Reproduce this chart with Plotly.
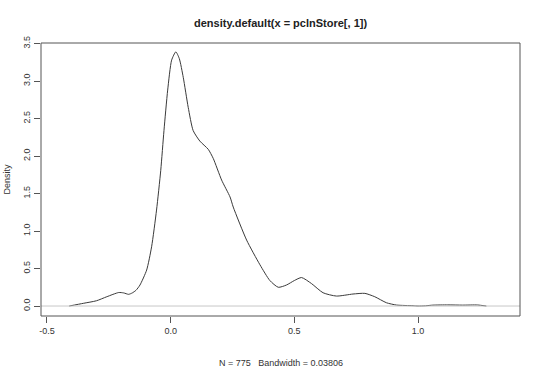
import plotly.graph_objects as go

# Density estimate
x_vals = [-0.41, -0.353, -0.30, -0.258, -0.21, -0.19, -0.17, -0.155, -0.14, -0.124,
          -0.097, -0.077, -0.057, -0.040, -0.027, -0.012, 0.004, 0.021, 0.035, 0.051,
          0.071, 0.091, 0.118, 0.152, 0.172, 0.206, 0.240, 0.253, 0.307, 0.361,
          0.401, 0.435, 0.468, 0.50, 0.529, 0.569, 0.616, 0.670, 0.737, 0.785,
          0.825, 0.872, 0.913, 0.98, 1.0, 1.03, 1.06, 1.12, 1.18, 1.24, 1.276]
density = [0.0, 0.036, 0.07, 0.124, 0.18, 0.175, 0.156, 0.175, 0.21, 0.28,
           0.48, 0.79, 1.28, 1.81, 2.34, 2.88, 3.28, 3.39, 3.30, 3.05,
           2.65, 2.34, 2.20, 2.09, 1.97, 1.68, 1.455, 1.32, 0.88, 0.55,
           0.34, 0.25, 0.28, 0.34, 0.38, 0.30, 0.177, 0.133, 0.16, 0.169,
           0.124, 0.044, 0.013, 0.004, 0.0, 0.003, 0.012, 0.015, 0.012, 0.014, 0.0]

x_ticks = [-0.5, 0.0, 0.5, 1.0]
x_tick_labels = ["-0.5", "0.0", "0.5", "1.0"]
y_ticks = [0.0, 0.5, 1.0, 1.5, 2.0, 2.5, 3.0, 3.5]
y_tick_labels = ["0.0", "0.5", "1.0", "1.5", "2.0", "2.5", "3.0", "3.5"]

title_text = "density.default(x = pclnStore[, 1])"
sub_text = "N = 775   Bandwidth = 0.03806"
y_title = "Density"

fig = go.Figure()
fig.add_trace(go.Scatter(x=x_vals, y=density, mode="lines",
                         line=dict(color="#3a3a3a", width=1, shape="spline", smoothing=0.6),
                         hoverinfo="skip", showlegend=False))

font_family = "Liberation Sans, Arial, sans-serif"
axis_col = "#555555"

fig.update_layout(
    width=540, height=371,
    margin=dict(l=41, r=20, t=43, b=55),
    paper_bgcolor="white", plot_bgcolor="white",
    font=dict(family=font_family, size=9, color="#333333"),
    showlegend=False,
    xaxis=dict(range=[-0.524, 1.412], tickvals=x_ticks, ticktext=x_tick_labels,
               showgrid=False, zeroline=False, showline=False,
               ticks="outside", ticklen=6, tickcolor=axis_col, tickwidth=1,
               tickfont=dict(size=9, color="#333333")),
    yaxis=dict(range=[-0.133, 3.508], tickvals=y_ticks, ticktext=y_tick_labels,
               showgrid=False, zeroline=False, showline=False,
               ticks="outside", ticklen=6, tickcolor=axis_col, tickwidth=1,
               tickangle=-90, tickfont=dict(size=9, color="#333333")),
    shapes=[
        dict(type="line", xref="paper", yref="y", x0=0, x1=1, y0=0, y1=0,
             line=dict(color="#c8c8c8", width=1), layer="above"),
        dict(type="rect", xref="paper", yref="paper", x0=0, x1=1, y0=0, y1=1,
             line=dict(color=axis_col, width=1), layer="above"),
    ],
    annotations=[
        dict(text="<b>" + title_text + "</b>", xref="paper", yref="paper",
             x=0.5, y=1, yshift=20, xanchor="center", yanchor="middle",
             showarrow=False, font=dict(size=11, color="#222222")),
        dict(text=sub_text, xref="paper", yref="paper", x=0.5, y=0,
             yshift=-47, xanchor="center", yanchor="middle",
             showarrow=False, font=dict(size=9, color="#333333")),
        dict(text=y_title, xref="paper", yref="paper", x=0, y=0.5,
             xshift=-35, xanchor="center", yanchor="middle", textangle=-90,
             showarrow=False, font=dict(size=9, color="#333333")),
    ],
)

# remove the page's default body margin so the figure sits at the window's corner
fig.write_html("out.html", config={"displayModeBar": False},
               post_script="document.body.style.margin='0';")
